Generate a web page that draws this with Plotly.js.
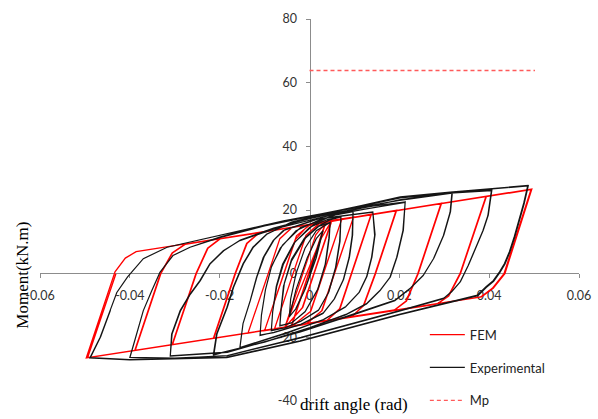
<!DOCTYPE html>
<html>
<head>
<meta charset="utf-8">
<script src="https://cdn.plot.ly/plotly-3.0.1.min.js"></script>
<style>html,body{margin:0;padding:0;background:#fff;}#chart{width:598px;height:419px;}</style>
</head>
<body>
<div id="chart"></div>
<script>
// ---- data (drift angle [rad], moment [kN.m]) ----
const femPath = [
  [0,0],[0.0037,16.4],[-0.0040,-16.6],[0.0036,16.3],[-0.0041,-16.6],
  [0.0025,10.8],[0.0050,16.7],[-0.0015,-10.6],[-0.0055,-16.9],
  [0.0024,10.6],[0.0049,16.6],[-0.0016,-10.7],[-0.0055,-16.9],
  [0.0014,12.2],[0.0038,16.4],[0.0072,17.2],[0.0003,-11.8],[-0.0038,-16.5],[-0.0078,-17.4],
  [-0.0008,12.0],[0.0025,16.3],[0.0072,17.2],[0.0002,-11.9],[-0.0039,-16.5],[-0.0078,-17.4],
  [-0.0008,12.0],[0.0025,16.1],[0.0098,17.8],[0.0028,-11.6],[-0.0008,-15.9],[-0.0100,-17.9],
  [-0.0029,11.9],[0.0004,15.7],[0.0098,17.8],[0.0027,-11.7],[-0.0009,-15.9],[-0.0100,-17.9],
  [-0.0057,0],[-0.0031,10.8],[-0.0004,15.0],[0.0138,18.7],
  [0.0094,0],[0.0068,-11.0],[0.0040,-14.6],[-0.0137,-18.7],
  [-0.0092,0],[-0.0066,11.0],[-0.0038,14.6],[0.0137,18.6],
  [0.0093,0],[0.0067,-11.0],[0.0039,-14.6],[-0.0137,-18.7],
  [-0.0092,0],[-0.0066,11.0],[-0.0038,14.6],[0.0194,19.9],
  [0.0147,0],[0.0121,-10.0],[0.0095,-13.4],[-0.0214,-20.3],
  [-0.0166,0],[-0.0140,9.5],[-0.0112,12.9],[0.0193,19.9],
  [0.0146,0],[0.0120,-10.0],[0.0094,-13.5],[-0.0213,-20.3],
  [-0.0165,0],[-0.0139,9.5],[-0.0111,12.9],[0.0294,22.1],
  [0.0242,0],[0.0216,-8.6],[0.0190,-11.4],[-0.0306,-22.3],
  [-0.0253,0],[-0.0227,8.0],[-0.0200,10.9],[0.0293,22.1],
  [0.0241,0],[0.0215,-8.6],[0.0189,-11.4],[-0.0305,-22.3],
  [-0.0252,0],[-0.0226,8.0],[-0.0199,10.9],[0.0394,24.3],
  [0.0336,0],[0.0310,-7.0],[0.0284,-9.6],[-0.0389,-24.1],
  [-0.0332,0],[-0.0306,6.5],[-0.0278,9.2],[0.0393,24.3],
  [0.0335,0],[0.0309,-7.0],[0.0283,-9.6],[-0.0388,-24.1],
  [-0.0331,0],[-0.0305,6.5],[-0.0277,9.2],[0.0495,26.6],
  [0.0435,0],[0.0409,-4.6],[0.0383,-7.3],[-0.0497,-26.5],
  [-0.0433,0.6],[-0.0410,4.9],[-0.0386,6.9],[0.0493,26.4],
  [0.0433,0],[0.0407,-4.6],[0.0381,-7.3],[-0.0494,-26.4],
  [-0.0431,0]
];
const expPath = [
  [0,0],[0.0015,7],[0.0030,13.5],[0.0015,5],[-0.0010,-5],[-0.0030,-11],[-0.0045,-13.5],
  [-0.0030,-5],[-0.0005,5],[0.0015,11],[0.0030,13.5],[0.0014,4.8],[-0.0011,-5.2],[-0.0031,-11.1],[-0.0045,-13.6],
  [-0.0042,-8],[-0.0030,0],[-0.0010,8],[0.0015,13.5],[0.0046,16.1],
  [0.0043,11],[0.0035,3],[0.0018,-5],[-0.0010,-12],[-0.0040,-15.5],[-0.0066,-16.3],
  [-0.0064,-12],[-0.0058,-4],[-0.0040,4],[-0.0010,11],[0.0020,14.8],[0.0046,16.1],
  [0.0044,11.2],[0.0036,3.2],[0.0019,-4.8],[-0.0009,-11.8],[-0.0039,-15.4],[-0.0066,-16.4],
  [-0.0063,-11],[-0.0056,-3],[-0.0040,4.5],[-0.0012,11],[0.0020,15],[0.0045,16.9],[0.0070,17.8],
  [0.0067,10],[0.0058,2],[0.0042,-6],[0.0020,-11.5],[-0.0020,-15],[-0.0055,-17],[-0.0085,-17.8],
  [-0.0082,-12],[-0.0074,-4],[-0.0060,3],[-0.0035,9.5],[0,14.5],[0.0040,17],[0.0070,17.9],
  [0.0068,10.2],[0.0059,2.2],[0.0043,-5.8],[0.0021,-11.3],[-0.0019,-14.9],[-0.0054,-17],[-0.0085,-17.9],
  [-0.0082,-12],[-0.0073,-4],[-0.0058,3],[-0.0032,10],[0.0010,15.5],[0.0050,18.2],[0.0097,19.5],
  [0.0095,12],[0.0088,5],[0.0075,-2],[0.0055,-8],[0.0030,-12.5],[-0.0020,-16],[-0.0080,-18.5],[-0.0110,-19.3],
  [-0.0107,-13],[-0.0098,-5],[-0.0085,2],[-0.0065,8],[-0.0030,13.5],[0.0020,16.8],[0.0062,18.6],[0.0097,19.6],
  [0.0096,12.2],[0.0089,5.2],[0.0076,-1.8],[0.0056,-7.8],[0.0031,-12.3],[-0.0019,-15.9],[-0.0079,-18.4],[-0.0110,-19.4],
  [-0.0107,-13],[-0.0098,-5],[-0.0084,2.5],[-0.0060,9],[-0.0020,14.5],[0.0040,17.5],[0.0141,19.3],
  [0.0145,12],[0.0138,5],[0.0127,-1],[0.0110,-6],[0.0080,-10.5],[0.0030,-14.5],[-0.0050,-18.5],[-0.0155,-23.2],
  [-0.0148,-15.7],[-0.0132,-8.5],[-0.0118,-1.2],[-0.0103,5.1],[-0.0081,10.4],[-0.0059,13.5],[0.0020,17.2],[0.0141,19.4],
  [0.0146,12.3],[0.0139,5.2],[0.0128,-0.8],[0.0111,-5.8],[0.0081,-10.3],[0.0031,-14.4],[-0.0049,-18.6],[-0.0155,-23.3],
  [-0.0148,-15.7],[-0.0132,-8.5],[-0.0117,-1],[-0.0101,5.3],[-0.0079,10.6],[-0.0055,13.8],[0.0030,17.8],[0.0120,20.2],[0.0213,22.4],
  [0.0208,13.5],[0.0194,5.1],[0.0179,-1.2],[0.0157,-5.3],[0.0127,-9.5],[0.0080,-13],[0,-17],[-0.0100,-21.5],[-0.0214,-25.4],
  [-0.0207,-19],[-0.0184,-10.6],[-0.0170,-4.3],[-0.0148,3.1],[-0.0126,8.3],[-0.0095,12.5],[-0.0040,16],[0.0060,19.2],[0.0140,21.2],[0.0213,22.5],
  [0.0209,13.7],[0.0195,5.3],[0.0180,-1],[0.0158,-5.1],[0.0128,-9.3],[0.0081,-12.8],[0.0001,-16.9],[-0.0099,-21.4],[-0.0213,-25.5],
  [-0.0206,-19],[-0.0183,-10.6],[-0.0169,-4.3],[-0.0147,3.1],[-0.0125,8.3],[-0.0094,12.5],[-0.0040,16.2],[0.0060,19.6],[0.0200,23],[0.0317,25.3],
  [0.0313,19.3],[0.0298,11.9],[0.0276,4.7],[0.0253,-0.6],[0.0224,-4.7],[0.0190,-8.5],[0.0100,-12.8],[-0.0020,-18.3],[-0.0184,-24.6],[-0.0310,-25.8],
  [-0.0307,-19],[-0.0288,-11.6],[-0.0266,-6.4],[-0.0244,-2.2],[-0.0222,3.1],[-0.0192,7.2],[-0.0155,10.4],[-0.0080,14],[0.0050,18.5],[0.0200,23.2],[0.0318,25.4],
  [0.0314,19.5],[0.0299,12.1],[0.0277,4.9],[0.0254,-0.4],[0.0225,-4.5],[0.0191,-8.3],[0.0101,-12.6],[-0.0019,-18.2],[-0.0183,-24.7],[-0.0310,-25.9],
  [-0.0306,-19],[-0.0287,-11.6],[-0.0265,-6.4],[-0.0243,-2.2],[-0.0221,3.1],[-0.0191,7.2],[-0.0154,10.6],[-0.0080,14.3],[0.0068,19.8],[0.0202,23.8],[0.0313,25.3],[0.0405,26.1],
  [0.0397,18.2],[0.0386,13.5],[0.0375,9.8],[0.0364,6],[0.0353,2.5],[0.0335,-2.7],[0.0317,-5.6],[0.0298,-7.9],[0.0200,-11.8],[-0.0020,-20.2],[-0.0184,-25.8],[-0.0300,-26.5],[-0.0400,-26.3],
  [-0.0389,-21],[-0.0370,-11.6],[-0.0351,-5.3],[-0.0333,0.4],[-0.0304,5.7],[-0.0266,8.3],[-0.0200,11.3],[-0.0100,15],[0.0068,19.9],[0.0202,23.9],[0.0313,25.4],[0.0406,26.2],
  [0.0398,18.4],[0.0387,13.7],[0.0376,10],[0.0365,6.2],[0.0354,2.7],[0.0336,-2.5],[0.0318,-5.4],[0.0299,-7.7],[0.0201,-11.6],[-0.0019,-20],[-0.0183,-25.7],[-0.0300,-26.6],[-0.0400,-26.4],
  [-0.0389,-21],[-0.0370,-11.6],[-0.0351,-5.3],[-0.0333,0.4],[-0.0304,5.7],[-0.0266,8.3],[-0.0200,11.5],[-0.0100,15.3],[0.0068,20],[0.0202,24],[0.0313,25.5],[0.0409,26.7],[0.0487,27.6],
  [0.0478,22],[0.0469,17.2],[0.0457,11.5],[0.0446,6.7],[0.0435,3],[0.0424,0.4],[0.0410,-2.4],[0.0394,-4.3],[0.0375,-6.9],[0.0201,-12.9],[-0.0020,-21.2],[-0.0184,-26.4],[-0.0300,-26.9],[-0.0400,-27.1],[-0.0489,-26.5],
  [-0.0466,-20],[-0.0444,-11.6],[-0.0429,-5.9],[-0.0405,-1],[-0.0370,4.7],[-0.0317,8.3],[-0.0244,10.7],[-0.0170,13],[-0.0058,16.6],[0.0068,19.9],[0.0202,24.1],[0.0313,25.6],[0.0409,26.8],[0.0486,27.7],
  [0.0477,22.2],[0.0468,17.4],[0.0456,11.7],[0.0445,6.9],[0.0434,3.2],[0.0423,0.6],[0.0409,-2.2],[0.0393,-4.1],[0.0374,-6.7],[0.0200,-12.8],[-0.0021,-21.1],[-0.0185,-26.3],[-0.0300,-26.8],[-0.0400,-27],[-0.0488,-26.4],
  [-0.0465,-19.8],[-0.0443,-11.4]
];
const mpX = [0, 0.0502];
const mpY = [63.8, 63.8];
const xTickVals = [-0.06, -0.04, -0.02, 0, 0.02, 0.04, 0.06];
const xTickText = ['-0.06', '-0.04', '-0.02', '0', '0.02', '0.04', '0.06'];
const yTickVals = [-40, -20, 0, 20, 40, 60, 80];
const yTickText = ['-40', '-20', '0', '20', '40', '60', '80'];
const seriesNames = ['FEM', 'Experimental', 'Mp'];

const tickFont = {family: 'Lato, "Open Sans", sans-serif', size: 12.5, color: '#333'};
const titleFont = {family: '"Liberation Serif", "Times New Roman", serif', size: 17, color: '#000'};

const traces = [
  {x: femPath.map(p => p[0]), y: femPath.map(p => p[1]), name: seriesNames[0], legendgroup: 'a',
   mode: 'lines', line: {color: '#ff0000', width: 1.3}, hoverinfo: 'skip'},
  {x: expPath.map(p => p[0]), y: expPath.map(p => p[1]), name: seriesNames[1], legendgroup: 'b',
   mode: 'lines', line: {color: '#151515', width: 1.2}, hoverinfo: 'skip'},
  {x: mpX, y: mpY, name: seriesNames[2], legendgroup: 'c',
   mode: 'lines', line: {color: '#ff5a5a', width: 1.4, dash: '4px,3px'}, hoverinfo: 'skip'}
];

const axisCommon = {
  showgrid: false, zeroline: false, showline: true, linecolor: '#8c8c8c', linewidth: 1,
  ticks: 'outside', ticklen: 4, tickwidth: 1, tickcolor: '#8c8c8c',
  tickfont: tickFont, layer: 'below traces', fixedrange: true, anchor: 'free'
};

// plot area spans px 19..419 vertically; y-axis domain leaves 18 px at the bottom for the legend
const layout = {
  width: 598, height: 419,
  margin: {l: 40, r: 19, t: 19, b: 0},
  paper_bgcolor: '#ffffff', plot_bgcolor: '#ffffff',
  showlegend: true,
  xaxis: Object.assign({}, axisCommon, {range: [-0.06, 0.06], position: 0.365,
    tickmode: 'array', tickvals: xTickVals, ticktext: xTickText, ticklabelstandoff: 7}),
  yaxis: Object.assign({}, axisCommon, {range: [-40, 80], domain: [0.045, 1], position: 0.5,
    tickmode: 'array', tickvals: yTickVals, ticktext: yTickText, ticklabelstandoff: 6}),
  legend: {x: 0.714, y: 0.2485, xanchor: 'left', yanchor: 'top', bgcolor: 'rgba(0,0,0,0)',
    font: {family: 'Lato, "Open Sans", sans-serif', size: 13, color: '#222'},
    tracegroupgap: 13, itemwidth: 35},
  annotations: [
    {text: 'Moment(kN.m)', xref: 'paper', yref: 'paper', x: -0.034, y: 0.36, textangle: -90,
     showarrow: false, font: titleFont, xanchor: 'center', yanchor: 'middle'},
    {text: 'drift angle (rad)', xref: 'paper', yref: 'paper', x: 0.583, y: 0.0375,
     showarrow: false, font: titleFont, xanchor: 'center', yanchor: 'middle'}
  ]
};

Plotly.newPlot('chart', traces, layout, {displayModeBar: false, staticPlot: true});
</script>
</body>
</html>
